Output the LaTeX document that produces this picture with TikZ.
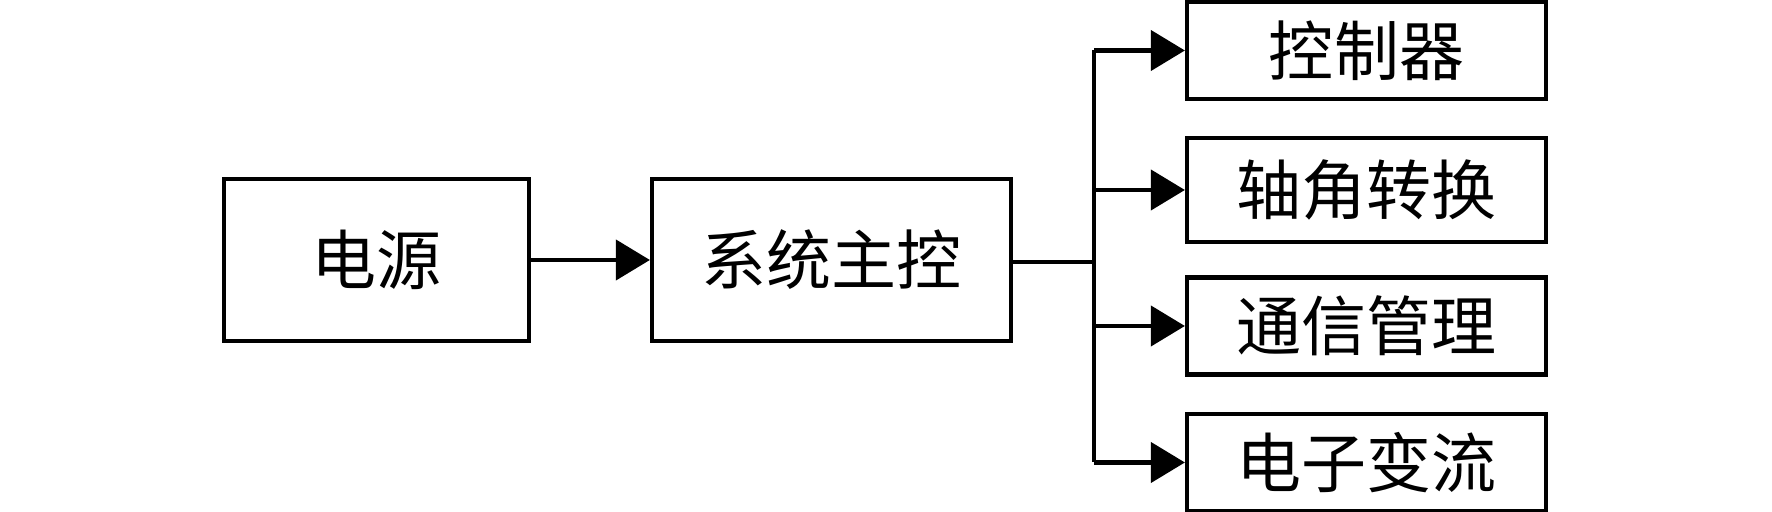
\documentclass[tikz,border=0pt]{standalone}
\usepackage{fontspec}
\newfontfamily\cjk{Noto Sans CJK SC}
\usetikzlibrary{arrows.meta}

\begin{document}
\begin{tikzpicture}[
    every node/.style={draw, line width=1.2pt, rectangle, text=black, font=\cjk\fontsize{18.5}{20}\selectfont, inner sep=0pt},
    bigbox/.style={minimum width=3.05cm, minimum height=1.62cm},
    subbox/.style={minimum width=3.59cm, minimum height=0.97cm},
    link/.style={line width=1.2pt, -{Triangle[length=3.4mm, width=4mm]}},
    ]
  \useasboundingbox (0,0) rectangle (17.72,-5.12);
  % left part
  \node[bigbox] (power) at (3.765,-2.60) {电源};
  \node[bigbox, minimum width=3.59cm] (main) at (8.315,-2.60) {系统主控};
  % right column
  \node[subbox] (ctrl) at (13.665,-0.505) {控制器};
  \node[subbox, minimum height=1.04cm] (angle) at (13.665,-1.90) {轴角转换};
  \node[subbox] (comm) at (13.665,-3.26) {通信管理};
  \node[subbox] (conv) at (13.665,-4.625) {电子变流};
  \coordinate (split) at (10.94,-2.62);

  \draw[link] (power) -- (main);
  \draw[line width=1.2pt] (main.east |- split) -- (split);
  \draw[line width=1.2pt] (split |- ctrl.west) -- (split |- conv.west);
  \foreach \sub in {ctrl, angle, comm, conv}
    \draw[link] (split |- \sub.west) -- (\sub.west);
\end{tikzpicture}
\end{document}
